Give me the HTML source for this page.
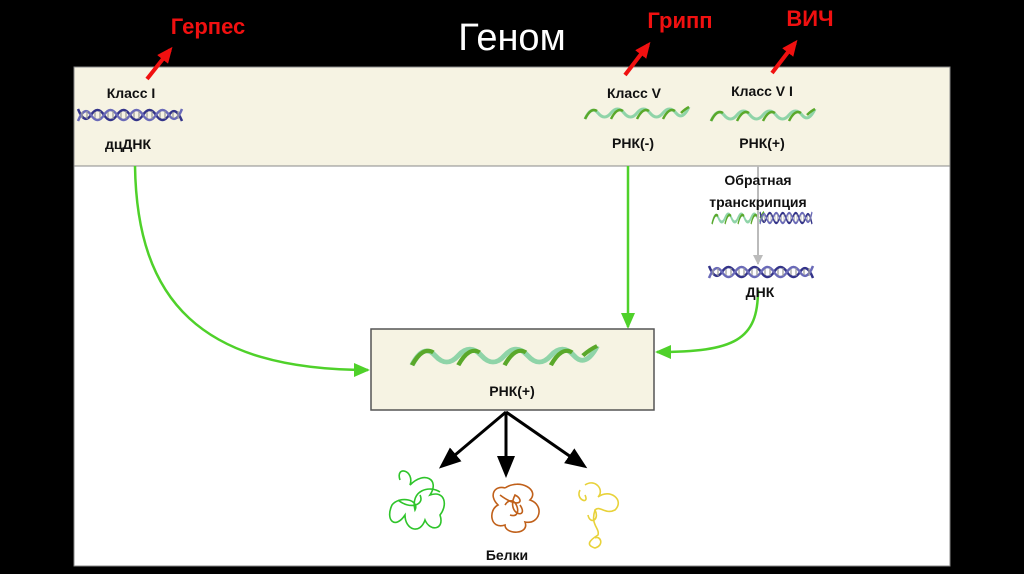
<!DOCTYPE html>
<html><head><meta charset="utf-8"><style>
html,body{margin:0;padding:0;background:#000;}
body{width:1024px;height:574px;position:relative;overflow:hidden;font-family:"Liberation Sans","DejaVu Sans",sans-serif;}
svg{position:absolute;left:0;top:0;}
</style></head><body>
<svg width="1024" height="574" viewBox="0 0 1024 574" xmlns="http://www.w3.org/2000/svg">
<defs>
<marker id="gr" markerWidth="10" markerHeight="10" refX="9" refY="5" orient="auto" markerUnits="userSpaceOnUse"><path d="M0,0 L10,5 L0,10 Z" fill="#bbb"/></marker>
<marker id="ba" markerWidth="22" markerHeight="18" refX="18" refY="9" orient="auto" markerUnits="userSpaceOnUse"><path d="M0,0 L22,9 L0,18 Z" fill="#000"/></marker>
<marker id="ra" markerWidth="16" markerHeight="14" refX="12" refY="7" orient="auto" markerUnits="userSpaceOnUse"><path d="M0,0 L16,7 L0,14 Z" fill="#f01010"/></marker>
<marker id="gb" markerWidth="16" markerHeight="14" refX="14" refY="7" orient="auto" markerUnits="userSpaceOnUse"><path d="M0,0 L16,7 L0,14 Z" fill="#4fd12a"/></marker>
<g id="wave">
<path d="M0,12 Q6.5,-2 13,6 T26,6 T39,6 T52,6 T65,6 T78,6 T91,6 T104,0" fill="none" stroke="#8fd4a8" stroke-width="3"/>
<path d="M0,12 Q6,0 12,4 M26,12 Q32,0 38,4 M52,12 Q58,0 64,4 M78,12 Q84,0 90,4 M96,6 Q100,2 104,0" fill="none" stroke="#5aa82a" stroke-width="2.5"/>
</g>
<g id="dna">
<path d="M0,0 Q6.5,16 13,6 T26,6 T39,6 T52,6 T65,6 T78,6 T91,6 T104,12" fill="none" stroke="#34348a" stroke-width="2.5"/>
<path d="M0,12 Q6.5,-4 13,6 T26,6 T39,6 T52,6 T65,6 T78,6 T91,6 T104,0" fill="none" stroke="#6a6ab8" stroke-width="2.5"/>
<path d="M4,3V9 M9,2V10 M17,3V9 M22,2V10 M30,3V9 M35,2V10 M43,3V9 M48,2V10 M56,3V9 M61,2V10 M69,3V9 M74,2V10 M82,3V9 M87,2V10 M95,3V9 M100,2V10" stroke="#999" stroke-width="1.2"/>
</g>
</defs>
<rect x="74" y="67" width="876" height="499" fill="#fff" stroke="#888"/>
<rect x="74" y="67" width="876" height="99" fill="#f6f3e3" stroke="#888"/>
<text x="512" y="50" font-size="38" fill="#fff" text-anchor="middle">Геном</text>
<text x="208" y="34" font-size="22" font-weight="bold" fill="#f01010" text-anchor="middle">Герпес</text>
<text x="680" y="28" font-size="22" font-weight="bold" fill="#f01010" text-anchor="middle">Грипп</text>
<text x="810" y="26" font-size="22" font-weight="bold" fill="#f01010" text-anchor="middle">ВИЧ</text>
<line x1="147" y1="79" x2="170" y2="50" stroke="#f01010" stroke-width="4" marker-end="url(#ra)"/>
<line x1="625" y1="75" x2="648" y2="45" stroke="#f01010" stroke-width="4" marker-end="url(#ra)"/>
<line x1="772" y1="73" x2="795" y2="43" stroke="#f01010" stroke-width="4" marker-end="url(#ra)"/>
<use href="#dna" x="78" y="109"/>
<use href="#wave" x="585" y="107"/>
<use href="#wave" x="711" y="109"/>
<use href="#wave" x="712" y="212" transform="translate(712,212) scale(0.5,1) translate(-712,-212)"/>
<use href="#dna" x="760" y="212" transform="translate(760,212) scale(0.5,1) translate(-760,-212)"/>
<use href="#dna" x="709" y="266"/>
<line x1="758" y1="166" x2="758" y2="264" stroke="#bbb" stroke-width="2" marker-end="url(#gr)"/>
<path d="M135,166 C137,300 200,370 368,370" fill="none" stroke="#4fd12a" stroke-width="2.5" marker-end="url(#gb)"/>
<line x1="628" y1="166" x2="628" y2="327" stroke="#4fd12a" stroke-width="2.5" marker-end="url(#gb)"/>
<path d="M758,290 C758,340 735,352 657,352" fill="none" stroke="#4fd12a" stroke-width="2.5" marker-end="url(#gb)"/>
<rect x="371" y="329" width="283" height="81" fill="#f6f3e3" stroke="#555" stroke-width="1.5"/>
<use href="#wave" x="412" y="346" transform="translate(412,346) scale(1.78,1.6) translate(-412,-346)"/>
<g font-size="14" font-weight="bold" fill="#111" text-anchor="middle">
<text x="131" y="98">Класс I</text>
<text x="128" y="149">дцДНК</text>
<text x="634" y="98">Класс  V</text>
<text x="633" y="148">РНК(-)</text>
<text x="762" y="96">Класс V I</text>
<text x="762" y="148">РНК(+)</text>
<text x="758" y="185">Обратная</text>
<text x="758" y="207">транскрипция</text>
<text x="760" y="297">ДНК</text>
<text x="512" y="396">РНК(+)</text>
<text x="507" y="560">Белки</text>
</g>
<line x1="506" y1="412" x2="442" y2="466" stroke="#000" stroke-width="3" marker-end="url(#ba)"/>
<line x1="506" y1="412" x2="506" y2="474" stroke="#000" stroke-width="3" marker-end="url(#ba)"/>
<line x1="506" y1="412" x2="584" y2="466" stroke="#000" stroke-width="3" marker-end="url(#ba)"/>
<g fill="none" stroke-width="1.6">
<path d="M400,480 C395,465 415,470 410,485 C425,470 440,480 430,495 C445,490 448,505 440,515 C445,530 430,532 425,520 C420,535 405,530 405,515 C395,530 385,520 392,505 C400,495 420,500 415,510 C410,490 430,485 440,492 M398,500 C410,510 425,505 420,495" stroke="#2ec42a"/>
<path d="M505,488 C520,478 540,490 530,500 C545,505 540,525 525,522 C530,535 505,535 505,525 C490,530 488,510 498,505 C488,495 495,485 505,488 M500,495 C520,510 525,500 515,495 C505,515 530,520 520,505 M505,505 C515,490 525,520 510,515" stroke="#c0601a"/>
<path d="M585,485 C595,478 605,490 598,497 C610,488 625,500 615,510 C605,515 600,505 595,510 C600,520 590,525 588,515 M580,490 C575,500 590,505 585,495 M595,510 C590,525 600,528 598,535 C590,540 585,545 595,548 C605,545 600,535 595,538" stroke="#e8d23a"/>
</g>
</svg>
</body></html>
